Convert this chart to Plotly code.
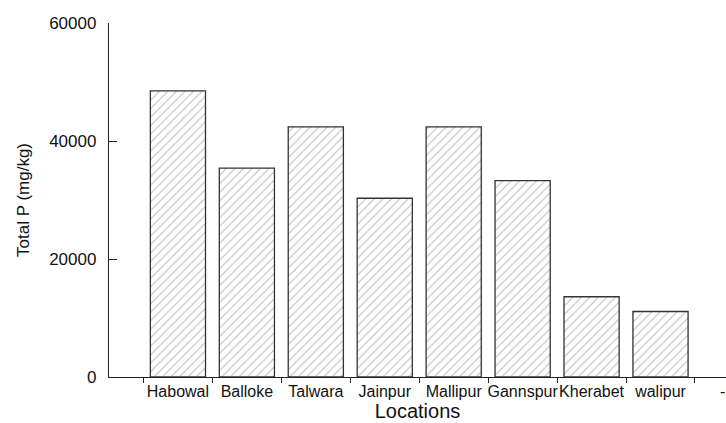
import plotly.graph_objects as go

# Total phosphorus by sampling location
locations = ["Habowal", "Balloke", "Talwara", "Jainpur", "Mallipur", "Gannspur", "Kherabet", "walipur"]
total_p = [48500, 35400, 42400, 30300, 42400, 33300, 13600, 11100]
y_ticks = [0, 20000, 40000, 60000]

FONT = "Liberation Sans, Arial, sans-serif"

fig = go.Figure()
fig.add_trace(go.Bar(
    x=locations,
    y=total_p,
    width=0.8,
    marker=dict(
        color="white",
        line=dict(color="#333333", width=1.3),
        pattern=dict(shape="/", size=6, solidity=0.17, fgcolor="#777777", bgcolor="white"),
    ),
    showlegend=False,
))

fig.update_layout(
    width=726,
    height=423,
    margin=dict(l=109, r=0, t=23, b=46),
    paper_bgcolor="white",
    plot_bgcolor="white",
    font=dict(family=FONT, color="#111111"),
    bargap=0.2,
)

fig.update_xaxes(
    type="category",
    range=[-1, 7.95],
    tickson="boundaries",
    tickangle=0,
    ticks="outside",
    ticklen=5,
    tickwidth=1.3,
    tickcolor="#222222",
    showline=True,
    linecolor="#222222",
    linewidth=1.3,
    showgrid=False,
    tickfont=dict(size=16, family=FONT, color="#111111"),
    title=dict(text="Locations", font=dict(size=20, family=FONT, color="#111111"), standoff=4),
    automargin=False,
)

fig.update_yaxes(
    range=[0, 60000],
    tickvals=y_ticks,
    ticktext=[str(v) for v in y_ticks],
    ticks="inside",
    ticklen=8,
    tickwidth=1.3,
    tickcolor="#222222",
    showline=True,
    linecolor="#222222",
    linewidth=1.3,
    showgrid=False,
    zeroline=False,
    tickfont=dict(size=17, family=FONT, color="#111111"),
    ticklabelstandoff=8,
    title=dict(text="Total P (mg/kg)", font=dict(size=17, family=FONT, color="#111111"), standoff=15),
    automargin=False,
)

# trailing tick label at the right edge
fig.add_annotation(
    x=7.9, xref="x", y=0, yref="y", yshift=-14,
    text="-", showarrow=False,
    font=dict(size=16, family=FONT, color="#111111"),
)

fig.write_html("out.html")
